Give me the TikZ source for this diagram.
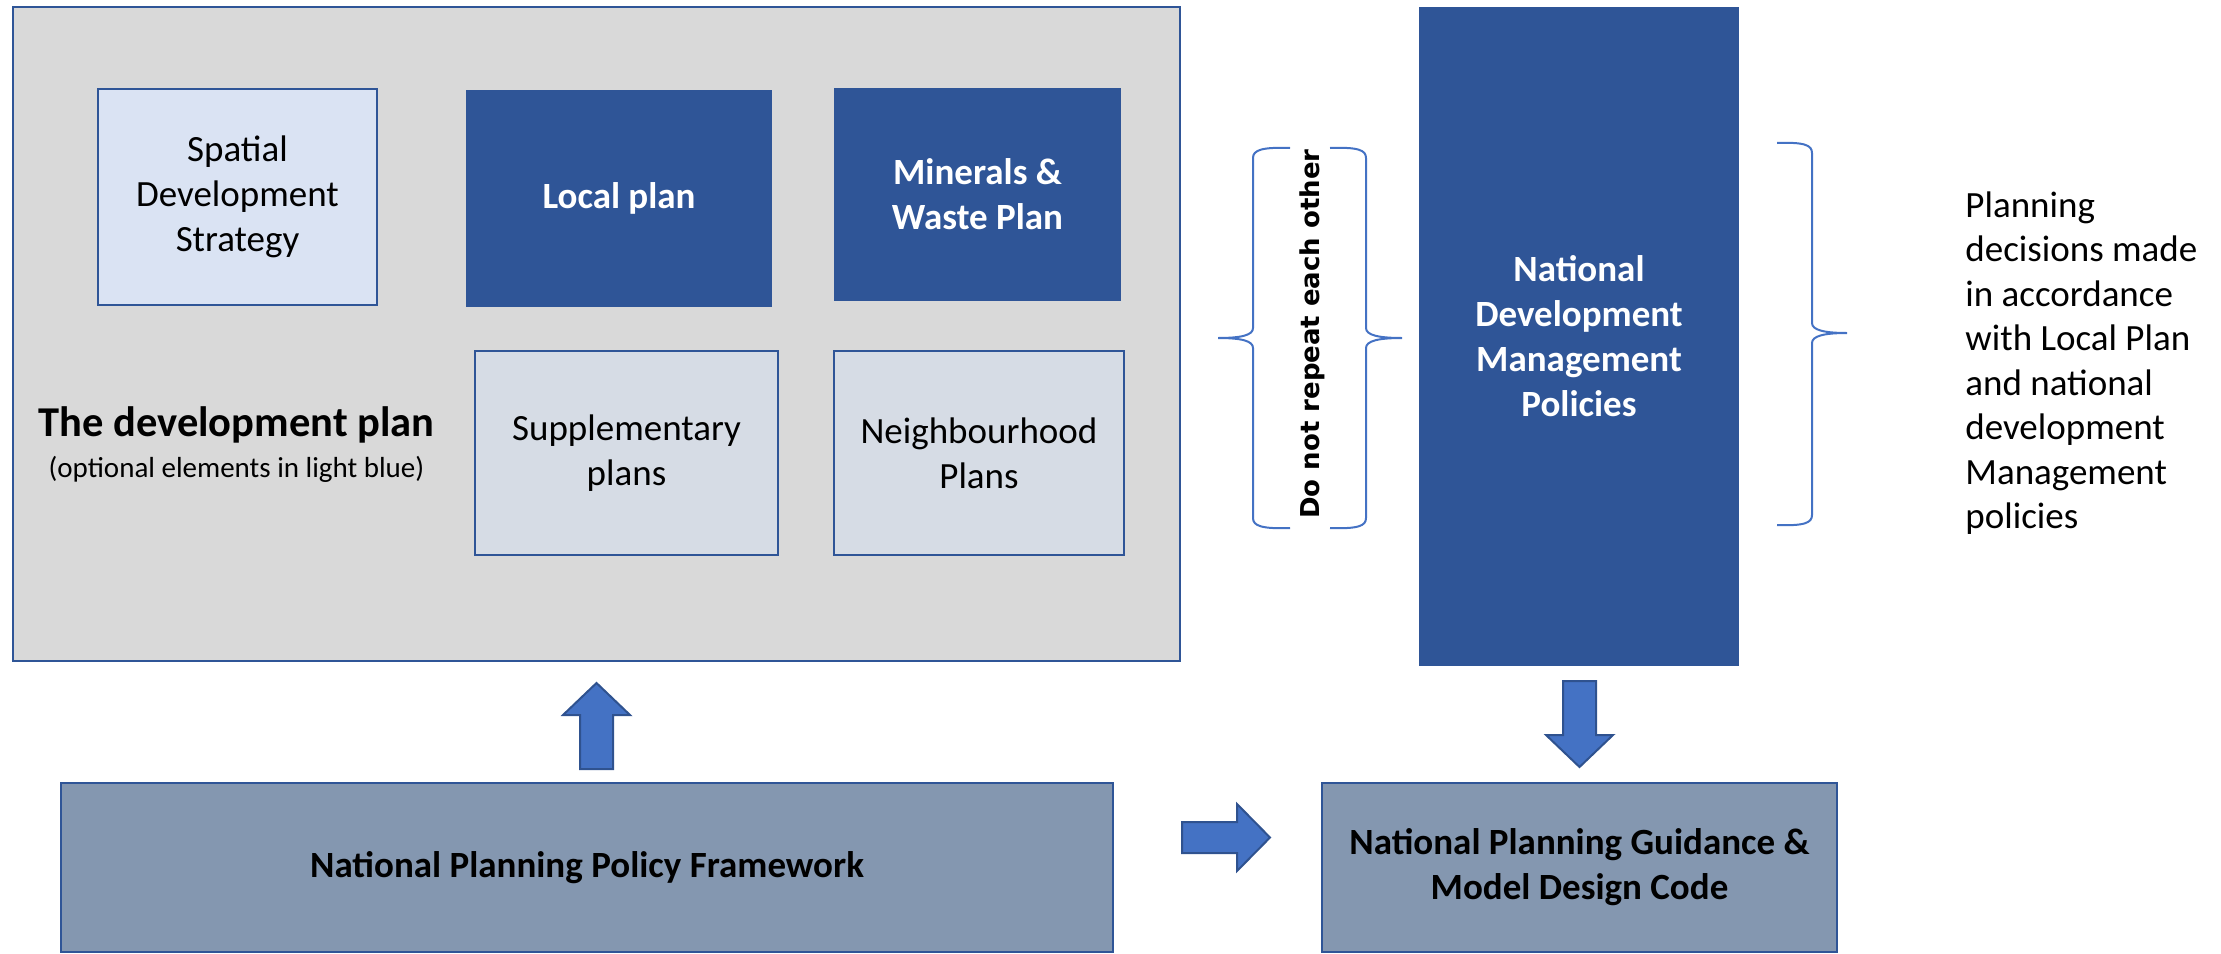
\documentclass[tikz,border=0pt]{standalone}
\usepackage{fontspec}
\setmainfont{Carlito}
\newfontfamily\repeatfont{DejaVu Sans}
\usepackage{tikz}
\usetikzlibrary{positioning}

\definecolor{darkblue}{HTML}{2F5597}
\definecolor{planbg}{HTML}{D9D9D9}
\definecolor{optblue}{HTML}{DAE3F3}
\definecolor{suppgray}{HTML}{D6DCE5}
\definecolor{natgray}{HTML}{8497B0}
\definecolor{arrblue}{HTML}{4472C4}
\definecolor{arredge}{HTML}{2F528F}

\tikzset{
  planbox/.style={draw=darkblue, line width=1.35pt, inner sep=0pt, align=center,
    font=\fontsize{18.5pt}{22.5pt}\selectfont},
  keyplan/.style={planbox, fill=darkblue, text=white, font=\fontsize{18.5pt}{22.5pt}\selectfont\bfseries},
  natbox/.style={planbox, fill=natgray, font=\fontsize{18.5pt}{22.5pt}\selectfont\bfseries},
  blockarrow/.style={draw=arredge, fill=arrblue, line width=1pt, line join=miter},
  curly/.style={draw=arrblue, line width=1pt}
}

\begin{document}
\begin{tikzpicture}[x=0.5pt, y=-0.5pt]
  \useasboundingbox (0,0) rectangle (2221,953);

  % the development plan
  \node[planbox, fill=planbg, minimum width=583.5pt, minimum height=327pt](devplan) at (596.5,334) {};
  \node[planbox, fill=optblue, minimum width=139.5pt, minimum height=108pt](sds) at (237.5,197) {Spatial\\Development\\Strategy};
  \node[keyplan, minimum width=152pt, minimum height=107.5pt](local) at (619,198.5) {Local plan};
  \node[keyplan, minimum width=142.5pt, minimum height=105.5pt](minerals) at (977.5,194.5) {Minerals \&\\Waste Plan};
  \node[planbox, fill=suppgray, minimum width=151.5pt, minimum height=102pt](supp) at (626.5,453) {Supplementary\\plans};
  \node[planbox, fill=suppgray, minimum width=145pt, minimum height=102pt](neigh) at (979,453) {Neighbourhood\\Plans};
  \node[font=\fontsize{21.25pt}{24pt}\selectfont\bfseries](devtitle) at (236.5,425) {The development plan};
  \node[font=\fontsize{14.5pt}{17pt}\selectfont, inner sep=0pt](devnote)[below=3pt of devtitle] {(optional elements in light blue)};

  % national policies
  \node[keyplan, minimum width=159pt, minimum height=328.5pt](ndmp) at (1579,336.5) {National\\Development\\Management\\Policies};
  \node[natbox, minimum width=526pt, minimum height=84.5pt](nppf) at (587,867.5) {National Planning Policy Framework};
  \node[natbox, minimum width=257.5pt, minimum height=84.5pt](npg) at (1579.5,867.5) {National Planning Guidance \&\\Model Design Code};

  % block arrows
  \draw[blockarrow] (580,769) -- (580,715) -- (563,715) -- (596.5,683) -- (630,715) -- (613,715) -- (613,769) -- cycle;
  \draw[blockarrow] (1182,822) -- (1237,822) -- (1237,804) -- (1270,837.5) -- (1237,871) -- (1237,853) -- (1182,853) -- cycle;
  \draw[blockarrow] (1563,681) -- (1596,681) -- (1596,735) -- (1613,735) -- (1579.5,767) -- (1546,735) -- (1563,735) -- cycle;

  % braces
  \node[font=\fontsize{13pt}{15pt}\repeatfont\bfseries, rotate=90](norepeat) at (1312,334) {Do not repeat each other};
  \draw[curly] (1290,148) .. controls (1262,147) and (1253,150) .. (1253,158) -- (1253,328)
    .. controls (1253,335) and (1242,338) .. (1218,338) .. controls (1242,338) and (1253,341) .. (1253,348)
    -- (1253,518) .. controls (1253,526) and (1262,529) .. (1290,528);
  \draw[curly] (1330,148) .. controls (1358,147) and (1366,150) .. (1366,158) -- (1366,328)
    .. controls (1366,335) and (1378,338) .. (1402,338) .. controls (1378,338) and (1366,341) .. (1366,348)
    -- (1366,518) .. controls (1366,526) and (1358,529) .. (1330,528);
  \draw[curly] (1777,143) .. controls (1804,142) and (1812,145) .. (1812,153) -- (1812,323)
    .. controls (1812,330) and (1824,333) .. (1847,333) .. controls (1824,333) and (1812,336) .. (1812,343)
    -- (1812,515) .. controls (1812,523) and (1804,526) .. (1777,525);
  \node[anchor=west, align=left, inner sep=0pt, font=\fontsize{18.5pt}{22.25pt}\selectfont](decisions) at (1965,363)
    {Planning\\decisions made\\in accordance\\with Local Plan\\and national\\development\\Management\\policies};
\end{tikzpicture}
\end{document}
